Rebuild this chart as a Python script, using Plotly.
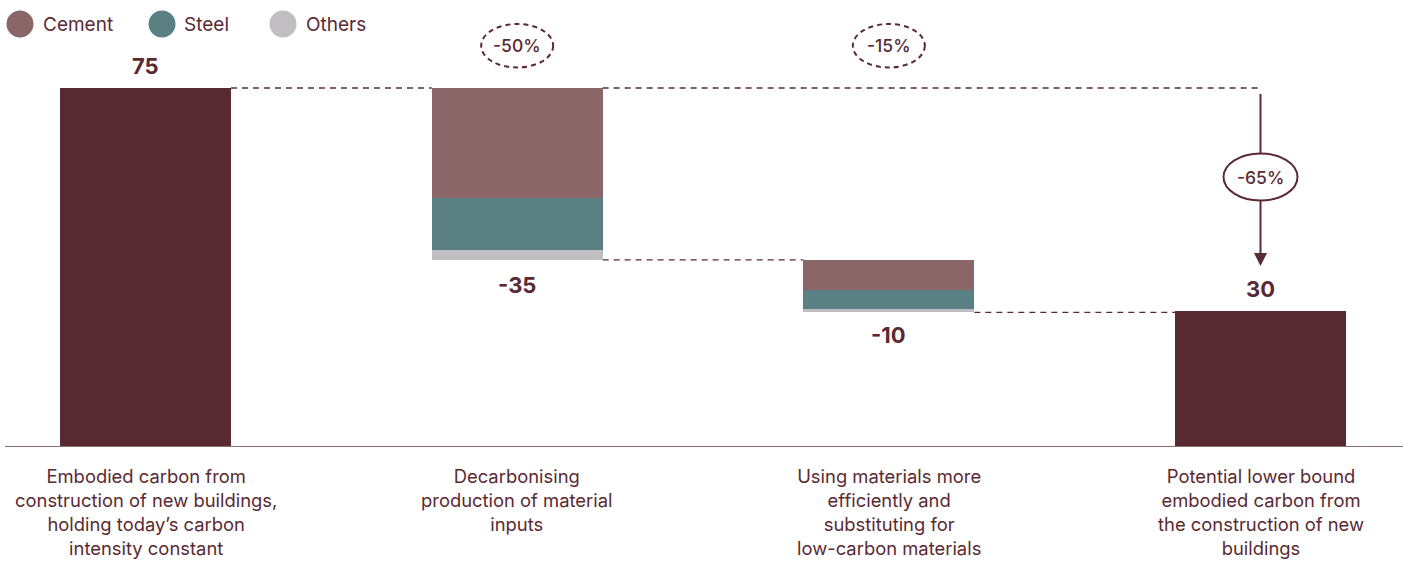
import plotly.graph_objects as go

# ---------------- data ----------------
categories = [
    "Embodied carbon from<br>construction of new buildings,<br>holding today\u2019s carbon<br>intensity constant",
    "Decarbonising<br>production of material<br>inputs",
    "Using materials more<br>efficiently and<br>substituting for<br>low-carbon materials",
    "Potential lower bound<br>embodied carbon from<br>the construction of new<br>buildings",
]
start_value = 75.0
end_value = 28.3
cement = [23.0, 6.4]       # reductions in steps 2 and 3
steel = [11.0, 3.8]
others = [2.0, 0.8]
value_labels = ["75", "-35", "-10", "30"]
pct_labels = ["-50%", "-15%"]
total_pct_label = "-65%"
legend_names = ["Cement", "Steel", "Others"]

# ---------------- style ----------------
DARK = "#582a32"
C_CEMENT = "#8a6669"
C_STEEL = "#5b8084"
C_OTHERS = "#c0bec0"
TXT = "#5a2a33"
AXIS = "#8c7074"
FONT = "Inter"
BW = 0.46

x_idx = [0, 1, 2, 3]

# compute stacked waterfall bases
levels = [start_value]
for i in range(2):
    levels.append(levels[-1] - cement[i] - steel[i] - others[i])

fig = go.Figure()

# totals
fig.add_trace(go.Bar(x=[0, 3], y=[start_value, end_value], base=[0, 0],
                     marker=dict(color=DARK, line=dict(width=0)), width=BW,
                     showlegend=False, hoverinfo="skip"))

cem_base, st_base, ot_base = [], [], []
for i in range(2):
    top = levels[i]
    cem_base.append(top - cement[i])
    st_base.append(top - cement[i] - steel[i])
    ot_base.append(top - cement[i] - steel[i] - others[i])

fig.add_trace(go.Bar(x=[1, 2], y=cement, base=cem_base, width=BW,
                     marker=dict(color=C_CEMENT, line=dict(width=0)),
                     showlegend=False, hoverinfo="skip"))
fig.add_trace(go.Bar(x=[1, 2], y=steel, base=st_base, width=BW,
                     marker=dict(color=C_STEEL, line=dict(width=0)),
                     showlegend=False, hoverinfo="skip"))
fig.add_trace(go.Bar(x=[1, 2], y=others, base=ot_base, width=BW,
                     marker=dict(color=C_OTHERS, line=dict(width=0)),
                     showlegend=False, hoverinfo="skip"))

shapes = []
dash_line = dict(color=TXT, width=1.3, dash="6px,5px")
h = BW / 2
# connectors
shapes.append(dict(type="line", xref="x", yref="y", x0=0 + h, x1=1 - h,
                   y0=start_value, y1=start_value, line=dash_line, layer="below"))
shapes.append(dict(type="line", xref="x", yref="y", x0=1 + h, x1=3 - 0.006,
                   y0=start_value, y1=start_value, line=dash_line, layer="below"))
shapes.append(dict(type="line", xref="x", yref="y", x0=1 + h, x1=2 - h,
                   y0=levels[1], y1=levels[1], line=dash_line, layer="below"))
shapes.append(dict(type="line", xref="x", yref="y", x0=2 + h, x1=3 - h,
                   y0=levels[2], y1=levels[2], line=dash_line, layer="below"))

annotations = []
# value labels
val_pos = [(0, start_value, 22), (1, levels[1], -25), (2, levels[2], -23), (3, end_value, 22)]
for (xi, yv, sh), lab in zip(val_pos, value_labels):
    annotations.append(dict(x=xi, y=yv, xref="x", yref="y", text=lab, showarrow=False,
                            yanchor="middle", yshift=sh,
                            font=dict(family=FONT, size=22, color=TXT, weight=700)))

# dashed percentage ellipses
for xi, lab in zip([1, 2], pct_labels):
    shapes.append(dict(type="circle", xref="x", yref="y", xsizemode="pixel", ysizemode="pixel",
                       xanchor=xi, yanchor=start_value, x0=-36, x1=36, y0=20.5, y1=64,
                       line=dict(color=TXT, width=2, dash="5px,4px"), fillcolor="rgba(0,0,0,0)"))
    annotations.append(dict(x=xi, y=start_value, xref="x", yref="y", text=lab, showarrow=False,
                            yanchor="middle", yshift=42.3,
                            font=dict(family=FONT, size=17.5, color=TXT, weight=500)))

# total arrow
shapes.append(dict(type="line", xref="x", yref="y", ysizemode="pixel", yanchor=start_value,
                   x0=3, x1=3, y0=-6, y1=-166, line=dict(color=TXT, width=2)))
shapes.append(dict(type="path", xref="x", yref="y", xsizemode="pixel", ysizemode="pixel",
                   xanchor=3, yanchor=start_value,
                   path="M-6.5,-165 L6.5,-165 L0,-178 Z", fillcolor=TXT, line=dict(width=0)))
shapes.append(dict(type="circle", xref="x", yref="y", xsizemode="pixel", ysizemode="pixel",
                   xanchor=3, yanchor=start_value, x0=-37, x1=37, y0=-112.5, y1=-65.5,
                   line=dict(color=TXT, width=2), fillcolor="white"))
annotations.append(dict(x=3, y=start_value, xref="x", yref="y", text=total_pct_label,
                        showarrow=False, yanchor="middle", yshift=-89,
                        font=dict(family=FONT, size=17.5, color=TXT, weight=500)))

# category labels
for xi, lab in zip(x_idx, categories):
    annotations.append(dict(x=xi, y=0, xref="x", yref="y", text=lab, showarrow=False,
                            yanchor="top", yshift=-17, align="center",
                            font=dict(family=FONT, size=18.4, color=TXT)))

# legend (manual)
leg_colors = [C_CEMENT, C_STEEL, C_OTHERS]
leg_cx = [20, 162, 283]
leg_tx = [42, 183, 305]
L = 5
T = 10
for name, col, cx, tx in zip(legend_names, leg_colors, leg_cx, leg_tx):
    shapes.append(dict(type="circle", xref="paper", yref="paper", xsizemode="pixel",
                       ysizemode="pixel", xanchor=0, yanchor=1,
                       x0=cx - L - 13.5, x1=cx - L + 13.5, y0=-(24 - T) - 13.5, y1=-(24 - T) + 13.5,
                       fillcolor=col, line=dict(width=0)))
    annotations.append(dict(x=0, y=1, xref="paper", yref="paper", xanchor="left",
                            yanchor="middle", xshift=tx - L - 1, yshift=-(24 - T), text=name,
                            showarrow=False, font=dict(family=FONT, size=19, color=TXT)))

px_per_unit = (446 - 88) / start_value
ymax = (446 - T) / px_per_unit
step = 371.67
fig.update_layout(
    width=1403, height=581,
    margin=dict(l=L, r=0, t=T, b=581 - 446),
    paper_bgcolor="white", plot_bgcolor="white",
    barmode="overlay", bargap=0,
    showlegend=False,
    shapes=shapes, annotations=annotations,
    xaxis=dict(type="linear", range=[(L - 145.5) / step, (1403 - 145.5) / step],
               showgrid=False, zeroline=False, showticklabels=False, ticks="",
               showline=True, linecolor=AXIS, linewidth=1, fixedrange=True),
    yaxis=dict(range=[0, ymax], showgrid=False, zeroline=False, showticklabels=False,
               ticks="", showline=False, fixedrange=True),
    font=dict(family=FONT, color=TXT),
)

fig.write_html("out.html", config={"displayModeBar": False},
               post_script="document.body.style.margin='0';document.body.style.overflow='hidden';")
